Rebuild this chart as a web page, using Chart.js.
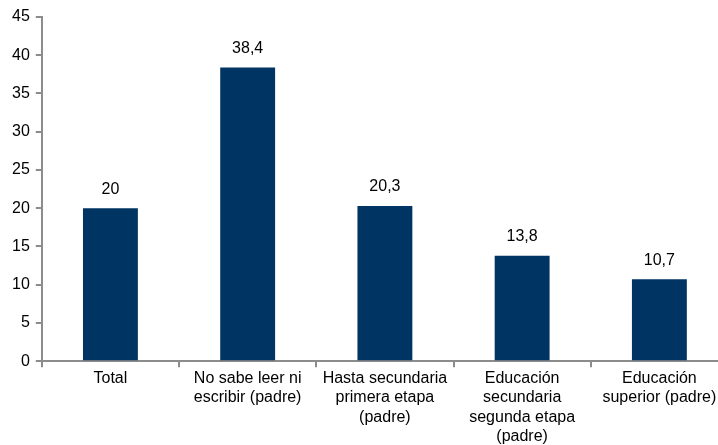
<!DOCTYPE html>
<html lang="es">
  <head>
    <meta charset="UTF-8" />
    <title>Gráfico</title>
    <script src="https://cdn.jsdelivr.net/npm/chart.js"></script>
    <style>
      html, body { margin: 0; padding: 0; background: #fff; overflow: hidden; }
      #wrap { width: 718px; height: 445px; overflow: hidden; }
    </style>
  </head>
  <body>
    <div id="wrap"><canvas id="chart" width="730" height="445"></canvas></div>

    <script>
      const categories = [
        ["Total"],
        ["No sabe leer ni", "escribir (padre)"],
        ["Hasta secundaria", "primera etapa", "(padre)"],
        ["Educación", "secundaria", "segunda etapa", "(padre)"],
        ["Educación", "superior (padre)"],
      ];
      const values = [20, 38.4, 20.3, 13.8, 10.7];
      const valueLabels = ["20", "38,4", "20,3", "13,8", "10,7"];
      const yTicks = [0, 5, 10, 15, 20, 25, 30, 35, 40, 45];

      const font = "'Liberation Sans', Arial, sans-serif";
      const axisColor = "#8c8c8c";

      const valueLabelPlugin = {
        id: "valueLabels",
        afterDatasetsDraw(chart) {
          const ctx = chart.ctx;
          const meta = chart.getDatasetMeta(0);
          ctx.save();
          ctx.font = "16px " + font;
          ctx.fillStyle = "#000";
          ctx.textAlign = "center";
          ctx.textBaseline = "bottom";
          meta.data.forEach((bar, i) => {
            ctx.fillText(valueLabels[i], bar.x, bar.y - 11);
          });
          ctx.restore();
        },
      };

      new Chart(document.getElementById("chart").getContext("2d"), {
        type: "bar",
        data: {
          labels: categories,
          datasets: [
            {
              data: values,
              backgroundColor: "#003462",
              barPercentage: 0.4,
              categoryPercentage: 1,
            },
          ],
        },
        options: {
          responsive: false,
          animation: false,
          devicePixelRatio: 1,
          layout: { padding: { top: 17, right: 2, left: 6, bottom: -3 } },
          plugins: {
            legend: { display: false },
            tooltip: { enabled: false },
          },
          scales: {
            x: {
              grid: {
                offset: true,
                drawOnChartArea: false,
                drawTicks: true,
                tickLength: 6,
                color: axisColor,
                lineWidth: 2,
              },
              border: { color: axisColor, width: 2 },
              ticks: {
                color: "#000",
                font: { family: font, size: 16, lineHeight: 1.2 },
                padding: 2,
                maxRotation: 0,
                autoSkip: false,
              },
            },
            y: {
              min: 0,
              max: 45,
              afterBuildTicks: (axis) => {
                axis.ticks = yTicks.map((v) => ({ value: v }));
              },
              grid: {
                drawOnChartArea: false,
                drawTicks: true,
                tickLength: 6,
                color: axisColor,
                lineWidth: 2,
              },
              border: { color: axisColor, width: 2 },
              ticks: {
                color: "#000",
                font: { family: font, size: 16 },
                padding: 6,
              },
            },
          },
        },
        plugins: [valueLabelPlugin],
      });
    </script>
  </body>
</html>
